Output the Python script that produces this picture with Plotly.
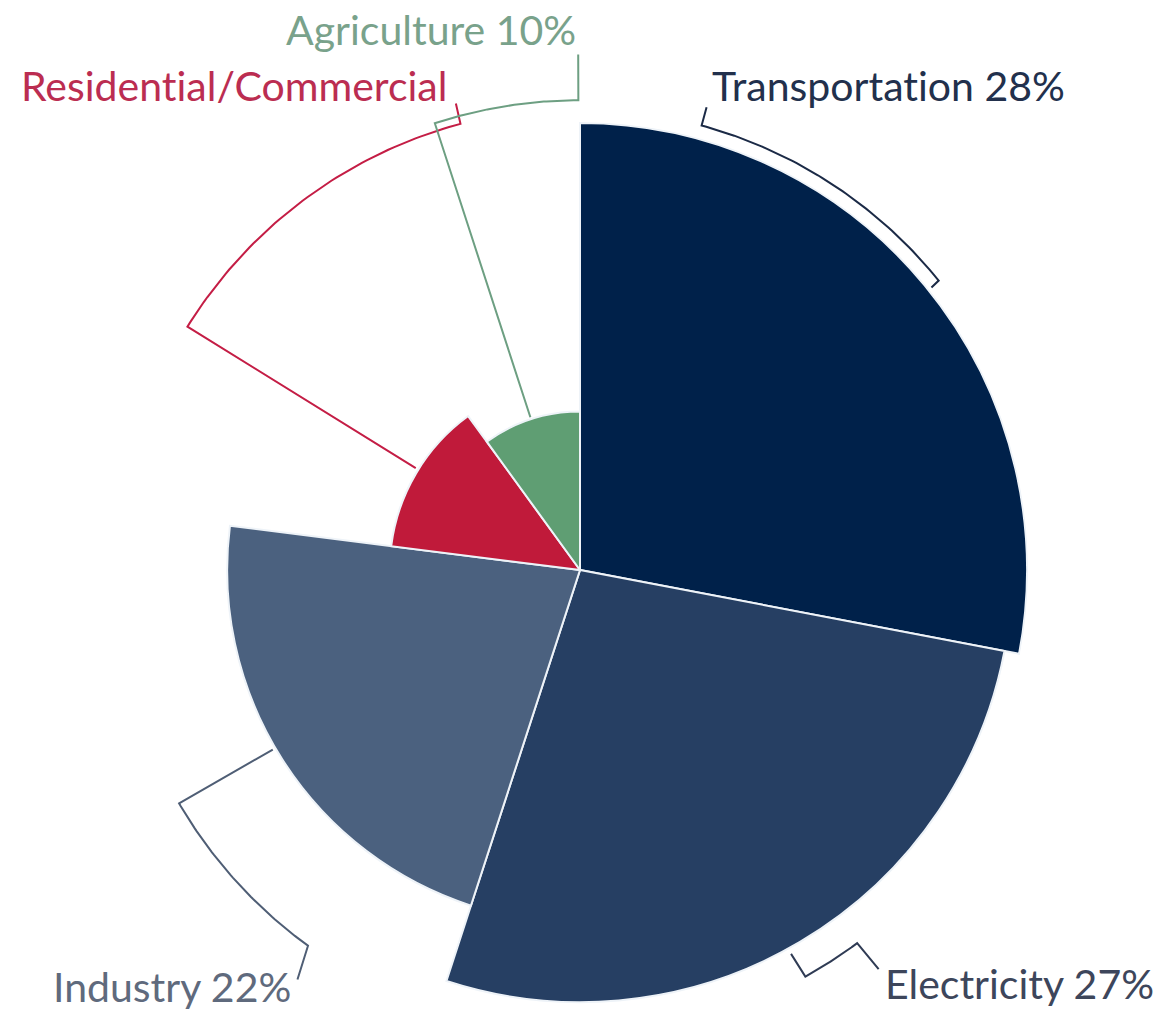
import numpy as np
import plotly.graph_objects as go

# --- data -------------------------------------------------------------
sectors = ["Transportation", "Electricity", "Industry",
           "Residential/Commercial", "Agriculture"]
shares = [28, 27, 22, 13, 10]            # % of total -> angular width
reach = [451, 436, 356, 192, 160]        # radial length of each wedge
labels = ["Transportation 28%", "Electricity 27%", "Industry 22%",
          "Residential/Commercial", "Agriculture 10%"]

fill_colors = ["#00214a", "#263f63", "#4b617f", "#c01a3a", "#5f9e73"]
line_colors = ["#1b2a46", "#2f3b54", "#4f5e75", "#c41d45", "#6d9f82"]
text_colors = ["#22304c", "#3d465b", "#5f6a7d", "#bb2d51", "#79a28b"]

# callout paths (angle clockwise from north, radius); equal radii -> arc
leader_paths = [
    [(15.3, 484), (15.3, 465), (51.1, 465), (51.2, 455)],
    [(151.2, 442), (151.0, 469), (143.4, 469), (143.2, 503)],
    [(239.7, 359), (239.8, 468), (215.9, 468), (214.6, 502)],
    [(301.8, 195), (301.8, 466), (345.0, 466), (345.1, 487)],
    [(342.0, 162), (342.0, 474), (359.8, 474), (359.8, 520)],
]

# label anchors in page pixels: (x, y of cap middle, anchor side)
label_pos = [(710, 86, "left"), (883, 983, "left"), (293, 986, "right"),
             (449, 86, "right"), (578, 30, "right")]

# --- geometry ---------------------------------------------------------
W, H = 1165, 1018
CX, CY = 580, 570                 # pie centre in page pixels
R_MAX = 452                       # radial axis upper limit
R_PX = H - CY                     # pixel radius of the polar area
S = R_PX / R_MAX                  # pixels per radial unit

start = np.concatenate([[0], np.cumsum(shares)[:-1]])
theta_mid = [(s + v / 2) * 3.6 for s, v in zip(start, shares)]
widths = [v * 3.6 for v in shares]

fig = go.Figure()

fig.add_trace(go.Barpolar(
    r=reach, theta=theta_mid, width=widths,
    marker=dict(color=fill_colors, line=dict(color="#eef3f8", width=2)),
    text=sectors, hoverinfo="text", showlegend=False,
))


def trace_path(pts):
    xs, ys = [], []
    for (a0, r0), (a1, r1) in zip(pts[:-1], pts[1:]):
        if abs(r0 - r1) < 1e-9:
            ang = np.linspace(a0, a1, 60)
            rad = np.full_like(ang, r0, dtype=float)
        else:
            ang = np.array([a0, a1])
            rad = np.array([r0, r1], dtype=float)
        xs.extend(rad * np.sin(np.radians(ang)))
        ys.extend(rad * np.cos(np.radians(ang)))
    return xs, ys


for pts, col in zip(leader_paths, line_colors):
    xs, ys = trace_path(pts)
    fig.add_trace(go.Scatter(x=xs, y=ys, mode="lines",
                             line=dict(color=col, width=2),
                             hoverinfo="skip", showlegend=False))

for txt, (px, py, side), col in zip(labels, label_pos, text_colors):
    fig.add_annotation(
        x=px / W, y=1 - py / H, xref="paper", yref="paper",
        text='<span style="font-variant-ligatures:none">%s</span>' % txt,
        showarrow=False, xanchor=side, yanchor="middle",
        font=dict(family="Lato", size=41, color=col),
    )

fig.update_layout(
    width=W, height=H,
    margin=dict(l=0, r=0, t=0, b=0),
    paper_bgcolor="white", plot_bgcolor="rgba(0,0,0,0)",
    polar=dict(
        domain=dict(x=[(CX - R_PX) / W, (CX + R_PX) / W],
                    y=[0, 2 * R_PX / H]),
        bgcolor="rgba(0,0,0,0)",
        angularaxis=dict(rotation=90, direction="clockwise",
                         showgrid=False, showline=False,
                         showticklabels=False, ticks=""),
        radialaxis=dict(range=[0, R_MAX], visible=False,
                        showgrid=False),
    ),
    xaxis=dict(range=[-CX / S, (W - CX) / S], visible=False,
               fixedrange=True),
    yaxis=dict(range=[-(H - CY) / S, CY / S], visible=False,
               fixedrange=True),
    showlegend=False,
)

fig.write_html("out.html")
